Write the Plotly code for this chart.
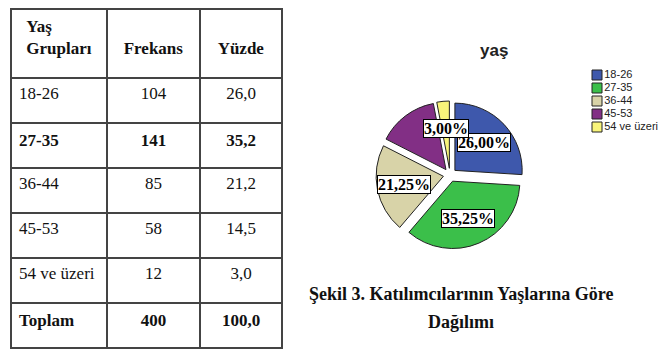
import plotly.graph_objects as go
import math

age_groups = ["18-26", "27-35", "36-44", "45-53", "54 ve üzeri"]
freq = [104, 141, 85, 58, 12]
pct_table = ["26,0", "35,2", "21,2", "14,5", "3,0"]
total_label = "Toplam"
total_pct = "100,0"
bold_rows = [False, True, False, False, False]
pie_colors = ["#3E58AC", "#3BBF4A", "#D8D3A8", "#822F85", "#F8F47A"]
show_pie_label = [True, True, True, False, True]

W, H = 666, 356
total = sum(freq)

def b(s, flag):
    return f"<b>{s}</b>" if flag else str(s)

col1 = [b(a, f) for a, f in zip(age_groups, bold_rows)] + [b(total_label, True)]
col2 = [b(v, f) for v, f in zip(freq, bold_rows)] + [b(total, True)]
col3 = [b(v, f) for v, f in zip(pct_table, bold_rows)] + [b(total_pct, True)]

fig = go.Figure()

fig.add_trace(go.Table(
    domain=dict(x=[11 / W, 282 / W], y=[1 - 349 / H, 1 - 9 / H]),
    columnwidth=[96, 93, 82],
    header=dict(
        values=["<b>Yaş</b><br><b>Grupları</b>", "&nbsp;<br><b>Frekans</b>", "&nbsp;<br><b>Yüzde</b>"],
        align="center", height=69,
        font=dict(family="Liberation Serif", size=17, color="#111"),
        line=dict(color="#444", width=1.5), fill=dict(color="white"),
    ),
    cells=dict(
        values=[col1, col2, col3],
        align=["left", "center", "center"], height=45,
        font=dict(family="Liberation Serif", size=17, color="#111"),
        line=dict(color="#444", width=1.5), fill=dict(color="white"),
    ),
))

# Pie
cx, cy, half = 450, 175, 74
pull = 0.1
fig.add_trace(go.Pie(
    labels=age_groups, values=freq, sort=False, direction="clockwise", rotation=0,
    marker=dict(colors=pie_colors, line=dict(color="#222", width=1)),
    pull=[pull] * len(freq), textinfo="none", hoverinfo="label+percent",
    showlegend=False,
    domain=dict(x=[(cx - half) / W, (cx + half) / W], y=[1 - (cy + half) / H, 1 - (cy - half) / H]),
))

annotations = []
cum = 0
r_lab = 47
for v, show in zip(freq, show_pie_label):
    mid = (cum + v / 2) / total * 2 * math.pi
    cum += v
    if not show:
        continue
    px = cx + r_lab * math.sin(mid)
    py = cy - r_lab * math.cos(mid)
    txt = f"{100 * v / total:.2f}%".replace(".", ",")
    annotations.append(dict(
        x=px / W, y=1 - py / H, xref="paper", yref="paper", text=f"<b>{txt}</b>",
        xanchor="center", yanchor="middle",
        showarrow=False, font=dict(family="Liberation Serif", size=16, color="black"),
        bgcolor="white", bordercolor="black", borderwidth=1, borderpad=0,
    ))

# Legend built as a scatter on its own axes
fig.add_trace(go.Scatter(
    x=[6] * len(age_groups), y=age_groups, mode="markers+text",
    marker=dict(symbol="square", size=10, color=pie_colors, line=dict(color="#222", width=1)),
    text=age_groups, textposition="middle right",
    textfont=dict(family="Liberation Sans", size=11, color="#222"),
    showlegend=False, hoverinfo="skip", xaxis="x2", yaxis="y2", cliponaxis=False,
))

annotations += [
    dict(x=494 / W, y=1 - 50 / H, xref="paper", yref="paper", text="<b>yaş</b>", showarrow=False,
         font=dict(family="Liberation Sans", size=17, color="#222"), xanchor="center", yanchor="middle"),
    dict(x=461 / W, y=1 - 294 / H, xref="paper", yref="paper",
         text="<b>Şekil 3. Katılımcılarının Yaşlarına Göre</b>", showarrow=False,
         font=dict(family="Liberation Serif", size=18, color="#111"), xanchor="center", yanchor="middle"),
    dict(x=461 / W, y=1 - 322 / H, xref="paper", yref="paper",
         text="<b>Dağılımı</b>", showarrow=False,
         font=dict(family="Liberation Serif", size=18, color="#111"), xanchor="center", yanchor="middle"),
]

fig.update_layout(
    width=W, height=H, margin=dict(l=0, r=0, t=0, b=0),
    paper_bgcolor="white", plot_bgcolor="white",
    annotations=annotations,
    xaxis2=dict(domain=[591 / W, 1], range=[0, 75], visible=False, fixedrange=True),
    yaxis2=dict(domain=[1 - 133.5 / H, 1 - 68.5 / H], type="category", categoryarray=age_groups,
                range=[len(age_groups) - 0.5, -0.5], visible=False, fixedrange=True),
)

fig.write_html("out.html")
